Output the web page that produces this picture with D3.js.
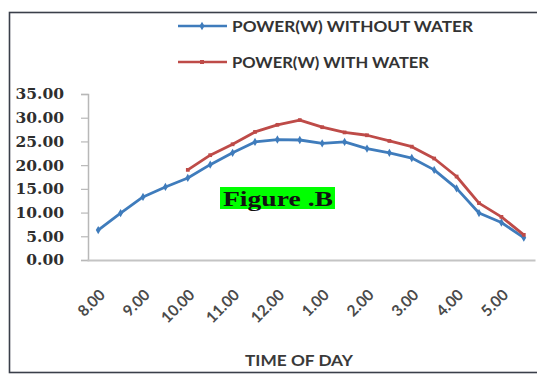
<!DOCTYPE html>
<html><head><meta charset="utf-8">
<script src="https://cdn.jsdelivr.net/npm/d3@7"></script>
<style>html,body{margin:0;padding:0;background:#fff;}svg{display:block;}</style>
</head><body>
<script>
const categories = ["8.00","8.30","9.00","9.30","10.00","10.30","11.00","11.30","12.00","12.30","1.00","1.30","2.00","2.30","3.00","3.30","4.00","4.30","5.00","5.30"];
const withoutWater = [6.3,9.9,13.3,15.4,17.3,20.1,22.6,24.9,25.4,25.3,24.6,24.9,23.5,22.6,21.5,19.0,15.1,9.9,7.9,4.7];
const withWater = [null,null,null,null,19.0,22.1,24.4,27.0,28.5,29.5,28.0,26.9,26.3,25.1,23.9,21.4,17.6,12.0,9.1,5.3];
const yTicks = [0,5,10,15,20,25,30,35];
const seriesNames = ["POWER(W) WITHOUT WATER","POWER(W) WITH WATER"];
const xTitle = "TIME OF DAY";
const figLabel = "Figure .B";

const W = 537, H = 376;
const svg = d3.select("body").append("svg").attr("width", W).attr("height", H);
svg.append("rect").attr("width", W).attr("height", H).attr("fill", "#fff");

// frame
svg.append("rect").attr("x", 9.5).attr("y", 12.5).attr("width", 540).attr("height", 360)
  .attr("fill", "#fff").attr("stroke", "#3a3f4a").attr("stroke-width", 1.6);

const x = d3.scaleBand().domain(categories).range([87, 535]);
const cx = c => x(c) + x.bandwidth() / 2;
const y = d3.scaleLinear().domain([0, 35]).range([260, 94]);

// y axis
const yAxis = d3.axisLeft(y).tickValues(yTicks).tickFormat(d3.format(".2f")).tickSize(7).tickPadding(17);
const gy = svg.append("g").attr("transform", "translate(88,0)").call(yAxis);
gy.select(".domain").attr("stroke", "#b8b8b8").attr("stroke-width", 1.5);
gy.selectAll(".tick line").attr("stroke", "#b8b8b8").attr("stroke-width", 1.2);
gy.selectAll(".tick text").attr("font-family", "DejaVu Serif").attr("font-size", 15.5)
  .attr("fill", "#2e2e2e").attr("font-weight", "bold");

// x axis
const xAxis = d3.axisBottom(x).tickSize(0).tickFormat((d, i) => i % 2 === 0 ? d : "");
const gx = svg.append("g").attr("transform", "translate(0,260)").call(xAxis);
gx.select(".domain").attr("stroke", "#c4c4c4").attr("stroke-width", 2);
gx.selectAll(".tick text")
  .attr("font-family", "Lato").attr("font-size", 15.5).attr("font-weight", "bold").attr("fill", "#4a4a4a")
  .attr("text-anchor", "end")
  .attr("transform", "translate(4,32) rotate(-45)")
  .attr("dy", "0.35em").attr("y", 0);

// x title
svg.append("text").attr("x", 299).attr("y", 366).attr("text-anchor", "middle")
  .attr("font-family", "Lato").attr("font-size", 14.5).attr("font-weight", "bold").attr("fill", "#3a3a3a")
  .attr("textLength", 108).attr("lengthAdjust", "spacingAndGlyphs")
  .text(xTitle);

const colors = ["#3f7cbc", "#be4b48"];
const data = [withoutWater, withWater];
const line = d3.line().defined(d => d.v != null).x(d => cx(d.c)).y(d => y(d.v));
data.forEach((vals, s) => {
  const pts = vals.map((v, i) => ({c: categories[i], v}));
  svg.append("path").datum(pts).attr("d", line).attr("fill", "none")
    .attr("stroke", colors[s]).attr("stroke-width", 2.8).attr("stroke-linejoin", "round");
  const sym = d3.symbol().type(s === 0 ? d3.symbolDiamond : d3.symbolSquare).size(s === 0 ? 20 : 14);
  svg.selectAll(null).data(pts.filter(d => d.v != null)).enter().append("path")
    .attr("d", sym).attr("transform", d => `translate(${cx(d.c)},${y(d.v)})`)
    .attr("fill", colors[s]);
});

// legend
seriesNames.forEach((name, s) => {
  const ly = s === 0 ? 26 : 62;
  const tl = s === 0 ? 241 : 197;
  svg.append("line").attr("x1", 178).attr("x2", 227).attr("y1", ly).attr("y2", ly)
    .attr("stroke", colors[s]).attr("stroke-width", 2.6);
  svg.append("path").attr("d", d3.symbol().type(s === 0 ? d3.symbolDiamond : d3.symbolSquare).size(s === 0 ? 22 : 16))
    .attr("transform", `translate(202,${ly})`).attr("fill", colors[s]);
  svg.append("text").attr("x", 232).attr("y", ly).attr("dy", "0.35em")
    .attr("font-family", "Lato").attr("font-size", 16).attr("font-weight", "bold").attr("fill", "#333")
    .attr("textLength", tl).attr("lengthAdjust", "spacingAndGlyphs")
    .text(name);
});

// figure label
svg.append("rect").attr("x", 220).attr("y", 187).attr("width", 115).attr("height", 22).attr("fill", "#00ff00");
svg.append("text").attr("x", 223).attr("y", 198).attr("dy", "0.36em")
  .attr("font-family", "Liberation Serif").attr("font-size", 21).attr("font-weight", "bold").attr("fill", "#111")
  .attr("textLength", 110).attr("lengthAdjust", "spacingAndGlyphs")
  .text(figLabel);
</script>
</body></html>
